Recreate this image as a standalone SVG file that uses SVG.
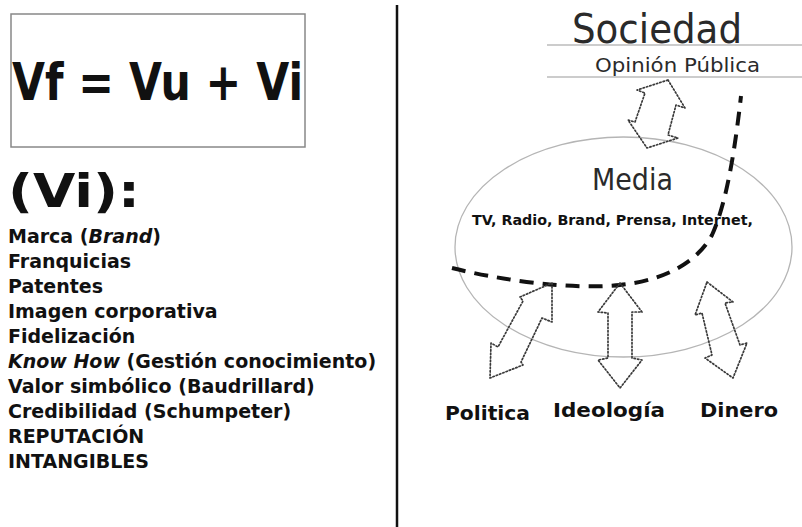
<svg xmlns="http://www.w3.org/2000/svg" width="802" height="527" viewBox="0 0 802 527">
<style>
.b{font-family:"DejaVu Sans","Verdana",sans-serif;font-weight:bold;fill:#111}
.r{font-family:"DejaVu Sans","Verdana",sans-serif;fill:#2a2a2a}
.li{font-size:19px}
.arr{fill:none;stroke:#3a3a3a;stroke-width:1.7;stroke-dasharray:1.4 2.1;stroke-linecap:round;stroke-linejoin:round}
.hl{stroke:#999;stroke-width:1}
</style>
<rect width="802" height="527" fill="#fff"/>
<line x1="397" y1="5" x2="397" y2="527" stroke="#111" stroke-width="2.5"/>
<g id="formula">
<rect x="11" y="14" width="294" height="133" fill="none" stroke="#888" stroke-width="1.5"/>
<text class="b" x="12" y="100" font-size="51" textLength="291" lengthAdjust="spacingAndGlyphs">Vf = Vu + Vi</text>
</g>
<g id="vi-list">
<text class="b" x="8" y="207" font-size="47" textLength="132" lengthAdjust="spacingAndGlyphs">(Vi):</text>
<text class="b li" x="8" y="243">Marca (<tspan font-style="italic">Brand</tspan>)</text>
<text class="b li" x="8" y="268">Franquicias</text>
<text class="b li" x="8" y="293">Patentes</text>
<text class="b li" x="8" y="318">Imagen corporativa</text>
<text class="b li" x="8" y="343">Fidelización</text>
<text class="b li" x="8" y="368"><tspan font-style="italic">Know How</tspan> (Gestión conocimiento)</text>
<text class="b li" x="8" y="393">Valor simbólico (Baudrillard)</text>
<text class="b li" x="8" y="418">Credibilidad (Schumpeter)</text>
<text class="b li" x="8" y="443">REPUTACIÓN</text>
<text class="b li" x="8" y="468">INTANGIBLES</text>
</g>
<g id="sociedad">
<text class="r" x="572" y="43" font-size="40" fill="#222" textLength="170" lengthAdjust="spacingAndGlyphs">Sociedad</text>
<line class="hl" x1="547" y1="45" x2="802" y2="45"/>
<text class="r" x="595" y="72" font-size="20" fill="#333" textLength="165" lengthAdjust="spacingAndGlyphs">Opinión Pública</text>
<line class="hl" x1="547" y1="77" x2="802" y2="77"/>
</g>
<g id="media">
<ellipse cx="623.5" cy="247" rx="168.5" ry="110" fill="none" stroke="#b5b5b5" stroke-width="1.3"/>
<text class="r" x="592" y="190" font-size="30" fill="#333" textLength="81" lengthAdjust="spacingAndGlyphs">Media</text>
<text class="b" x="472" y="225" font-size="13.5" fill="#222" textLength="281" lengthAdjust="spacingAndGlyphs">TV, Radio, Brand, Prensa, Internet,</text>
</g>
<g id="politica">
<text class="b" x="445" y="420" font-size="20" textLength="85" lengthAdjust="spacingAndGlyphs">Politica</text>
</g>
<g id="ideologia">
<text class="b" x="553" y="417" font-size="20" textLength="112" lengthAdjust="spacingAndGlyphs">Ideología</text>
</g>
<g id="dinero">
<text class="b" x="700" y="417" font-size="20" textLength="78" lengthAdjust="spacingAndGlyphs">Dinero</text>
</g>
<g id="connectors">
<path d="M452,268 C500,280 570,290 620,285 C670,280 700,258 712,235 C728,200 736,140 741,96" fill="none" stroke="#111" stroke-width="4" stroke-dasharray="14 9"/>
<polygon class="arr" points="668,80 685,108 676,105 668,135 678,138 647,148 628,120 635,122 645,93 637,90"/>
<polygon class="arr" points="552,283 552,322 542,318 521,362 523,365 490,378 491,343 498,347 523,301 520,297"/>
<polygon class="arr" points="620,283 642,312 632,312 632,358 642,360 620,388 598,360 608,358 608,313 598,312"/>
<polygon class="arr" points="707,282 733,302 725,303 740,345 747,343 733,378 705,358 712,355 702,313 695,315"/>
</g>
</svg>
